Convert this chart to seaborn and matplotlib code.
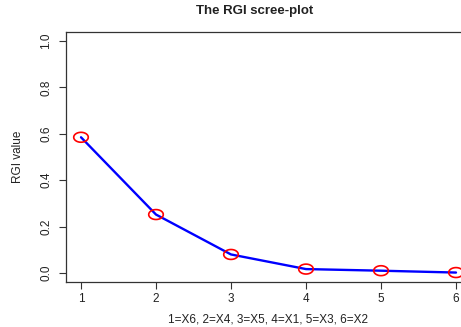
import numpy as np
import pandas as pd
import matplotlib
matplotlib.use("Agg")
import matplotlib.pyplot as plt
from matplotlib.path import Path
import seaborn as sns

# values
components = [1, 2, 3, 4, 5, 6]
rgi_values = [0.585, 0.252, 0.080, 0.017, 0.010, 0.002]
y_ticks = [0.0, 0.2, 0.4, 0.6, 0.8, 1.0]
x_label = "1=X6, 2=X4, 3=X5, 4=X1, 5=X3, 6=X2"

df = pd.DataFrame({"component": components, "rgi": rgi_values})

sns.set_theme(style="ticks")
plt.rcParams["font.family"] = ["Liberation Sans", "DejaVu Sans"]

# the original is stretched horizontally, so the circles look like ellipses
t = np.linspace(0, 2 * np.pi, 60)
ellipse = Path(np.column_stack([np.cos(t) * 1.0, np.sin(t) * 0.68]))

fig = plt.figure(figsize=(4.61, 3.27), dpi=100)
W, H = 461, 327
ax = fig.add_axes([66 / W, 1 - 282.3 / H, (471 - 66) / W, (282.3 - 31.7) / H])

sns.lineplot(data=df, x="component", y="rgi", ax=ax, color="#0000ff", linewidth=1.7)
sns.scatterplot(data=df, x="component", y="rgi", ax=ax, marker=ellipse, s=110,
                facecolor="none", edgecolor="#ff0000", linewidth=1.2, zorder=3)

ax.set_xlim(0.8, 6.2)
ax.set_ylim(-0.04, 1.04)
ax.set_xticks(components)
ax.set_yticks(y_ticks)
ax.set_yticklabels([f"{v:.1f}" for v in y_ticks], rotation=90, va="center")
ax.tick_params(axis="both", direction="out", length=5, width=0.8, colors="#333333",
               labelsize=8.5, labelcolor="#222222")
ax.tick_params(axis="x", pad=3)
ax.tick_params(axis="y", pad=5)
for s in ax.spines.values():
    s.set_color("#333333")
    s.set_linewidth(0.9)

ax.set_xlabel("")
ax.set_ylabel("")
fig.text(268 / W, 1 - 319 / H, x_label, ha="center", va="center",
         fontsize=8.5, color="#222222")
fig.text(18 / W, 1 - 157 / H, "RGI value", ha="center", va="center",
         rotation=90, fontsize=8.5, color="#222222")
fig.text(255 / W, 1 - 11 / H, "The RGI scree-plot", ha="center", va="center",
         fontsize=9.5, fontweight="bold", color="#222222")

fig.savefig("out.png", dpi=100)
